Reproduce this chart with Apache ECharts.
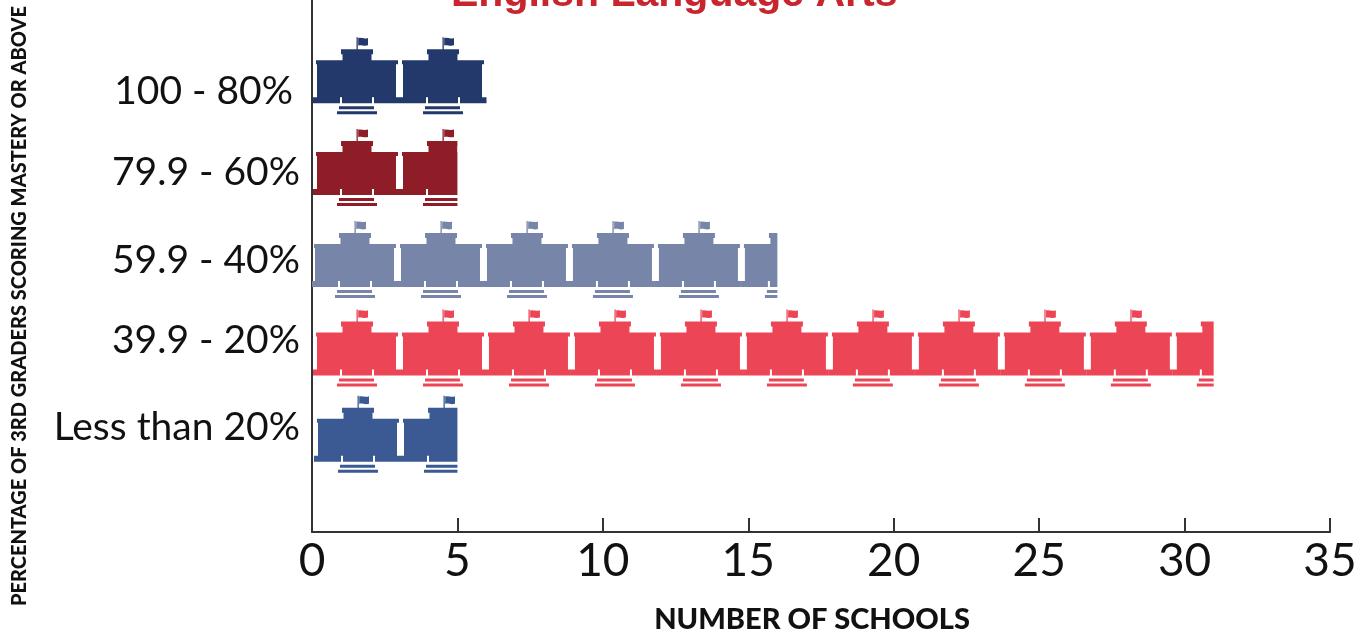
<!DOCTYPE html>
<html><head><meta charset="utf-8">
<style>html,body{margin:0;padding:0;background:#fff}#c{width:1371px;height:633px}</style>
<script src="https://cdn.jsdelivr.net/npm/echarts@6/dist/echarts.min.js"></script>
</head><body><div id="c"></div>
<script>
const categories = ['100 - 80%', '79.9 - 60%', '59.9 - 40%', '39.9 - 20%', 'Less than 20%'];
const schools = [6, 5, 16, 31, 5];
const colors = ['#24396b', '#8f1d27', '#7785a8', '#ec4656', '#3b5a94'];
const xTicks = [0, 35, 5];
const titleText = 'English Language Arts';
const xName = 'NUMBER OF SCHOOLS';
const yName = 'PERCENTAGE OF 3RD GRADERS SCORING MASTERY OR ABOVE';
const iconShift = [[1,-1],[1,1],[-1,3.5],[1,2.5],[2,-1]];
const labelShift = [15, 6, 4, -5, -8];
const labelRight = [7, 0, 0, 0, 0];

const school = 'path://M43.5 0H44.8V12H43.5Z M45.2 0.8C48 -0.2 51 2 55 0.6V8C51 9.4 48 7 45.2 8.2Z' +
 'M28 12H60V17H58.5V23H85V27H83V60H86V66H61V60H59V66H29V60H27V66H0V60H4V27H3V23H29.5V17H28Z' +
 'M26 69H61V72H26Z M24 74H64V77H24Z';

const rich = {};
categories.forEach((c,i)=>{
  const s = labelShift[i];
  rich['r'+i] = {fontSize:39, fontFamily:'Lato', color:'#111',
    padding: s>=0 ? [2*s,labelRight[i],0,0] : [0,labelRight[i],-2*s,0]};
});

const chart = echarts.init(document.getElementById('c'));
chart.setOption({
  animation:false,
  title:{text:titleText,left:446,top:-31,textStyle:{color:'#c9252f',fontFamily:'Liberation Sans',fontWeight:'bold',fontSize:41}},
  grid:[
    {left:312,top:0,width:1018,height:532,outerBoundsMode:'none'},
    {left:312,top:32,width:1018,height:448,outerBoundsMode:'none'}
  ],
  xAxis:[
    {gridIndex:0,type:'value',min:xTicks[0],max:xTicks[1],interval:xTicks[2],
     name:xName,nameLocation:'middle',nameGap:73,
     nameTextStyle:{fontFamily:'Lato',fontWeight:900,fontSize:29,color:'#111',padding:[0,18,0,0]},
     axisLine:{show:true,lineStyle:{color:'#333',width:2}},
     axisTick:{show:true,inside:true,length:14,lineStyle:{color:'#333',width:2}},
     axisLabel:{fontFamily:'Lato',fontSize:46,color:'#111',margin:6},
     splitLine:{show:false}},
    {gridIndex:1,type:'value',min:xTicks[0],max:xTicks[1],show:false}
  ],
  yAxis:[
    {gridIndex:0,type:'value',min:0,max:1,
     name:yName,nameLocation:'middle',nameGap:282,
     nameTextStyle:{fontFamily:'Lato',fontWeight:900,fontSize:20,color:'#111',padding:[0,80,0,0]},
     axisLine:{show:true,lineStyle:{color:'#333',width:2}},
     axisTick:{show:false},axisLabel:{show:false},splitLine:{show:false}},
    {gridIndex:1,type:'category',inverse:true,data:categories,
     axisLine:{show:false},axisTick:{show:false},
     axisLabel:{margin:12,formatter:(v,i)=>`{r${i}|${v}}`,rich}}
  ],
  series:[{
    type:'pictorialBar',xAxisIndex:1,yAxisIndex:1,
    symbol:school,symbolSize:[86,77],symbolRepeat:12,symbolMargin:0,
    symbolBoundingData:35.475,symbolClip:true,symbolPosition:'start',
    data:schools.map((v,i)=>({value:v,itemStyle:{color:colors[i]},symbolOffset:iconShift[i]}))
  }]
});
</script></body></html>
